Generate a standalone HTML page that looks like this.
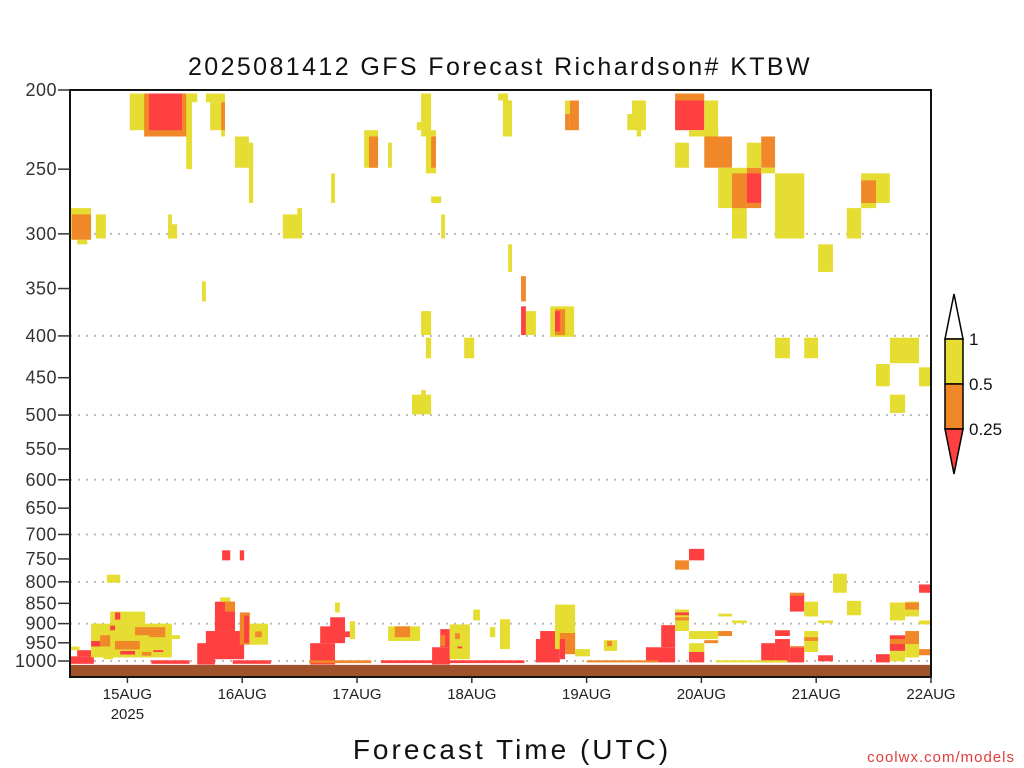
<!DOCTYPE html>
<html><head><meta charset="utf-8"><style>
html,body{margin:0;padding:0;background:#fff;}
svg{display:block;font-family:"Liberation Sans",sans-serif;}
</style></head><body>
<svg id="chart" width="1024" height="768" viewBox="0 0 1024 768" xmlns="http://www.w3.org/2000/svg">
<rect width="1024" height="768" fill="#fff"/>
<text x="500" y="75" text-anchor="middle" font-size="25" fill="#111" letter-spacing="2.4">2025081412 GFS Forecast Richardson# KTBW</text>
<g id="grid"></g>
<g id="cells"></g>
<g id="axes"></g>
<text x="512" y="759" text-anchor="middle" font-size="28" fill="#111" letter-spacing="3">Forecast Time (UTC)</text>
<text x="1015" y="762" text-anchor="end" font-size="15" fill="#e03c3c" letter-spacing="1">coolwx.com/models</text>
<g>
<polygon points="945,339 954,294 963,339" fill="#fff" stroke="#000" stroke-width="1.5"/>
<rect x="945" y="339" width="18" height="45" fill="#e6dd32" stroke="#000" stroke-width="1.5"/>
<rect x="945" y="384" width="18" height="45" fill="#f0882a" stroke="#000" stroke-width="1.5"/>
<polygon points="945,429 954,474 963,429" fill="#ff4040" stroke="#000" stroke-width="1.5"/>
<text x="969" y="345" font-size="17" fill="#111">1</text>
<text x="969" y="390" font-size="17" fill="#111">0.5</text>
<text x="969" y="435" font-size="17" fill="#111">0.25</text>
</g>
</svg>
<script>
const pLevels=[200,250,300,350,400,450,500,550,600,650,700,750,800,850,900,950,1000];
const gridLevels=[300,400,500,600,700,800,900,1000];
const dayHours=[12,36,60,84,108,132,156,180];
const dayLabels=["15AUG","16AUG","17AUG","18AUG","19AUG","20AUG","21AUG","22AUG"];
const surfaceP=1011;
// cells: [startHour, endHour, topP, bottomP, Ri]
const upperCells=[
[12.5,15.7,202,224,.7],[15.5,24.5,202,228,.35],[16.5,23.4,202,224,.15],[24.5,26.6,202,207,.7],[24.3,25.5,202,250,.7],
[28.4,32.4,202,207,.7],[29.3,32.4,207,224,.7],[31.6,32.4,207,224,.35],[31.6,32.4,224,228,.7],
[34.5,37.4,228,249,.7],[37.4,38.3,232,275,.7],[54.6,55.4,253,275,.7],
[61.5,64.4,224,249,.7],[62.5,64.4,228,249,.35],[66.5,67.3,232,249,.7],
[73.4,75.5,202,228,.7],[74.4,76.5,224,253,.7],[75.5,76.5,228,249,.35],[72.5,73.4,219,224,.7],[75.5,77.6,270,275,.7],
[89.5,91.6,202,206,.7],[90.5,92.4,206,228,.7],
[0,4.4,279,305,.7],[0.4,4.4,284,305,.35],[1.5,3.6,305,309,.7],[5.4,7.5,284,304,.7],
[20.5,21.3,284,304,.7],[21.3,22.4,292,304,.7],[44.5,48.5,284,304,.7],[47.5,48.5,279,284,.7],[77.6,78.4,284,304,.7],
[103.5,104.5,206,214,.7],[104.5,106.4,206,224,.35],[103.5,104.5,214,224,.35],
[117.5,120.4,206,224,.7],[116.5,117.5,214,224,.7],[118.5,119.4,224,228,.7],
[126.5,132.6,202,206,.35],[126.5,132.6,206,224,.15],[132.6,135.5,206,228,.7],[129.4,135.5,224,228,.7],
[126.5,129.4,232,249,.7],[132.6,138.4,228,249,.35],
[135.5,138.4,249,279,.7],[138.4,141.5,249,304,.7],[138.4,141.5,253,279,.35],[141.5,144.5,249,279,.35],[141.5,144.5,253,275,.15],
[141.5,144.5,232,249,.7],[144.5,147.4,228,249,.35],[144.5,147.4,249,253,.7],
[147.4,153.5,253,304,.7],[162.4,165.4,279,304,.7],[165.4,171.4,253,275,.7],[165.4,168.5,275,279,.7],[165.4,168.5,258,275,.35],
[156.4,159.5,309,334,.7]
];
const midCells=[
[27.6,28.4,343,363,.7],[91.6,92.4,309,334,.7],
[94.3,95.3,338,363,.35],[95.3,97.4,373,399,.7],[94.3,95.3,368,399,.15],[100.4,105.4,368,401,.7],[101.4,103.5,371,399,.35],[101.4,102.4,373,395,.15],
[73.4,75.5,373,399,.7],[74.4,75.5,402,426,.7],[82.4,84.5,402,426,.7],
[147.4,150.5,402,426,.7],[153.5,156.4,402,426,.7],[171.4,177.5,402,432,.7],[168.5,171.4,433,461,.7],[177.5,180,437,461,.7],
[171.4,174.6,472,497,.7],[71.5,75.5,472,499,.7],[73.4,74.4,466,472,.7],
[31.8,33.5,732,753,.15],[35.5,36.4,732,753,.15],[7.7,10.5,784,802,.7],
[159.5,162.4,782,825,.7],[162.4,165.4,844,879,.7],[177.5,180,806,825,.15],
[126.5,129.4,753,773,.35],[129.4,132.6,729,753,.15]
];
const lowerCells=[
[0,5,987,1008,.15],[1.5,4.4,970,987,.15],[0,2,960,970,.7],
[4.4,21.3,900,990,.7],[8.4,15.7,870,900,.7],[21.3,23,930,940,.7],
[13.6,19.9,909,930,.35],[16.5,19.9,930,935,.35],[8.4,9.4,905,917,.15],[9.4,10.5,872,890,.15],
[6.3,8.4,930,960,.35],[9.4,14.6,945,968,.35],[4.4,6.3,945,960,.15],[10.5,13.6,972,982,.15],[17.4,19.5,970,975,.15],
[7,9,985,995,.7],[15,17,975,985,.35],[17,25,998,1008,.15],
[26.6,30.3,951,1010,.15],[28.4,36.4,919,995,.15],[30.3,34.5,846,919,.15],[31.4,33.5,836,846,.7],[32.4,34.5,846,870,.35],
[35.5,37.6,872,955,.35],[36.4,37.4,880,950,.15],[37.6,41.4,900,955,.7],[38.7,40.1,920,935,.35],[34,42,998,1008,.15],
[50.2,55.4,951,1010,.15],[52.3,57.5,907,951,.15],[54.4,57.5,884,910,.15],[55.4,56.4,848,872,.7],[58.5,59.6,894,940,.7],[57.5,58.5,920,935,.15],[50,63,998,1006,.35],
[66.5,73.2,907,945,.7],[67.9,71.1,907,935,.35],
[75.7,79.4,962,1010,.15],[77.4,79.4,914,962,.15],[77.4,78.4,930,959,.35],[79.4,83.6,902,995,.7],[80.5,81.5,925,940,.35],[81,82,960,965,.15],
[84.3,85.7,865,892,.7],[87.8,88.9,909,935,.7],[89.9,92,889,967,.7],[65,95,998,1006,.15],
[97.4,102.4,940,1004,.15],[98.3,101.4,919,945,.15],[101.4,105.6,853,967,.7],[102.4,105.6,924,981,.35],[102.4,103.5,940,995,.15],
[105.6,108.7,967,987,.7],[111.6,114.4,943,972,.7],[112.3,113.3,945,959,.35],
[120.4,126.5,962,1004,.15],[123.6,126.5,904,962,.15],[126.5,129.4,865,919,.7],[126.5,129.4,872,879,.15],[126.5,129.4,884,892,.35],
[129.4,135.5,919,940,.7],[129.4,132.6,951,975,.7],[129.4,132.6,975,1004,.15],[132.6,135.5,943,951,.35],[135.5,138.4,919,932,.35],
[135.5,138.4,875,882,.7],[138.4,141.5,892,899,.7],
[144.5,147.4,951,1004,.15],[147.4,150.5,917,932,.15],[147.4,150.5,940,1004,.15],[150.5,153.5,827,870,.15],[150.5,153.5,825,832,.35],
[153.5,156.4,846,882,.7],[150.5,153.5,962,1004,.15],[150.5,153.5,959,962,.35],[153.5,156.4,919,975,.7],[153.5,156.4,935,945,.35],
[156.4,159.5,984,1001,.15],[156.4,159.5,892,899,.7],[168.5,171.4,981,1004,.15],
[171.4,174.6,848,892,.7],[174.6,177.5,846,882,.7],[174.6,177.5,848,865,.35],[171.4,174.6,930,972,.15],[171.4,174.6,940,953,.35],
[171.4,174.6,972,1001,.7],[174.6,177.5,919,962,.35],[174.6,177.5,953,990,.7],[177.5,180,892,902,.7],[177.5,180,967,984,.35],
[108,123,998,1004,.35],[135,150,998,1004,.7]
];
const X0=70,X1=931,Y0=90,Y1=661,Ybot=677,H0=0,H1=180;
function xs(h){return X0+(h-H0)/(H1-H0)*(X1-X0);}
function ys(p){return Y0+Math.log(p/200)/Math.log(1000/200)*(Y1-Y0);}
function color(v){return v<0.25?'#ff4040':(v<0.5?'#f0882a':'#e6dd32');}
const NS='http://www.w3.org/2000/svg';
function mk(tag,attrs,parent){const e=document.createElementNS(NS,tag);for(const k in attrs)e.setAttribute(k,attrs[k]);parent.appendChild(e);return e;}
const grid=document.getElementById('grid'),cells=document.getElementById('cells'),axes=document.getElementById('axes');
gridLevels.forEach(p=>{
 const l=mk('line',{x1:X0,x2:X1,y1:ys(p),y2:ys(p),stroke:'#bbb','stroke-width':2,'stroke-dasharray':'2,6'},grid);
 
 
});
[upperCells,midCells,lowerCells].forEach(arr=>arr.forEach(c=>{
 const x=xs(c[0]),w=xs(c[1])-x,y=ys(c[2]),h=ys(c[3])-y;
 const r=mk('rect',{x:x,y:y,width:w,height:h,fill:color(c[4])},cells);
 
 
}));
const g=mk('rect',{x:X0,y:ys(surfaceP),width:X1-X0,height:Ybot-ys(surfaceP),fill:'#a0522d'},cells);


const fr=mk('rect',{x:X0,y:Y0,width:X1-X0,height:Ybot-Y0,fill:'none',stroke:'#111','stroke-width':2},axes);


pLevels.forEach(p=>{
 const y=ys(p);
 const t=mk('line',{x1:58,x2:X0,y1:y,y2:y,stroke:'#333','stroke-width':1.5},axes);
 
 
 const tx=mk('text',{x:57,y:y+6,'text-anchor':'end','font-size':18,fill:'#333','letter-spacing':0.5},axes);
 tx.textContent=p;
 
 
});
dayHours.forEach((h,i)=>{
 const x=xs(h);
 const t=mk('line',{x1:x,x2:x,y1:Ybot,y2:Ybot+6,stroke:'#333','stroke-width':1.5},axes);
 
 
 const tx=mk('text',{x:x,y:699,'text-anchor':'middle','font-size':15,fill:'#222'},axes);
 tx.textContent=dayLabels[i];
 
 
});
const yr=mk('text',{x:xs(dayHours[0]),y:719,'text-anchor':'middle','font-size':15,fill:'#222'},axes);
yr.textContent='2025';


</script>
</body></html>
